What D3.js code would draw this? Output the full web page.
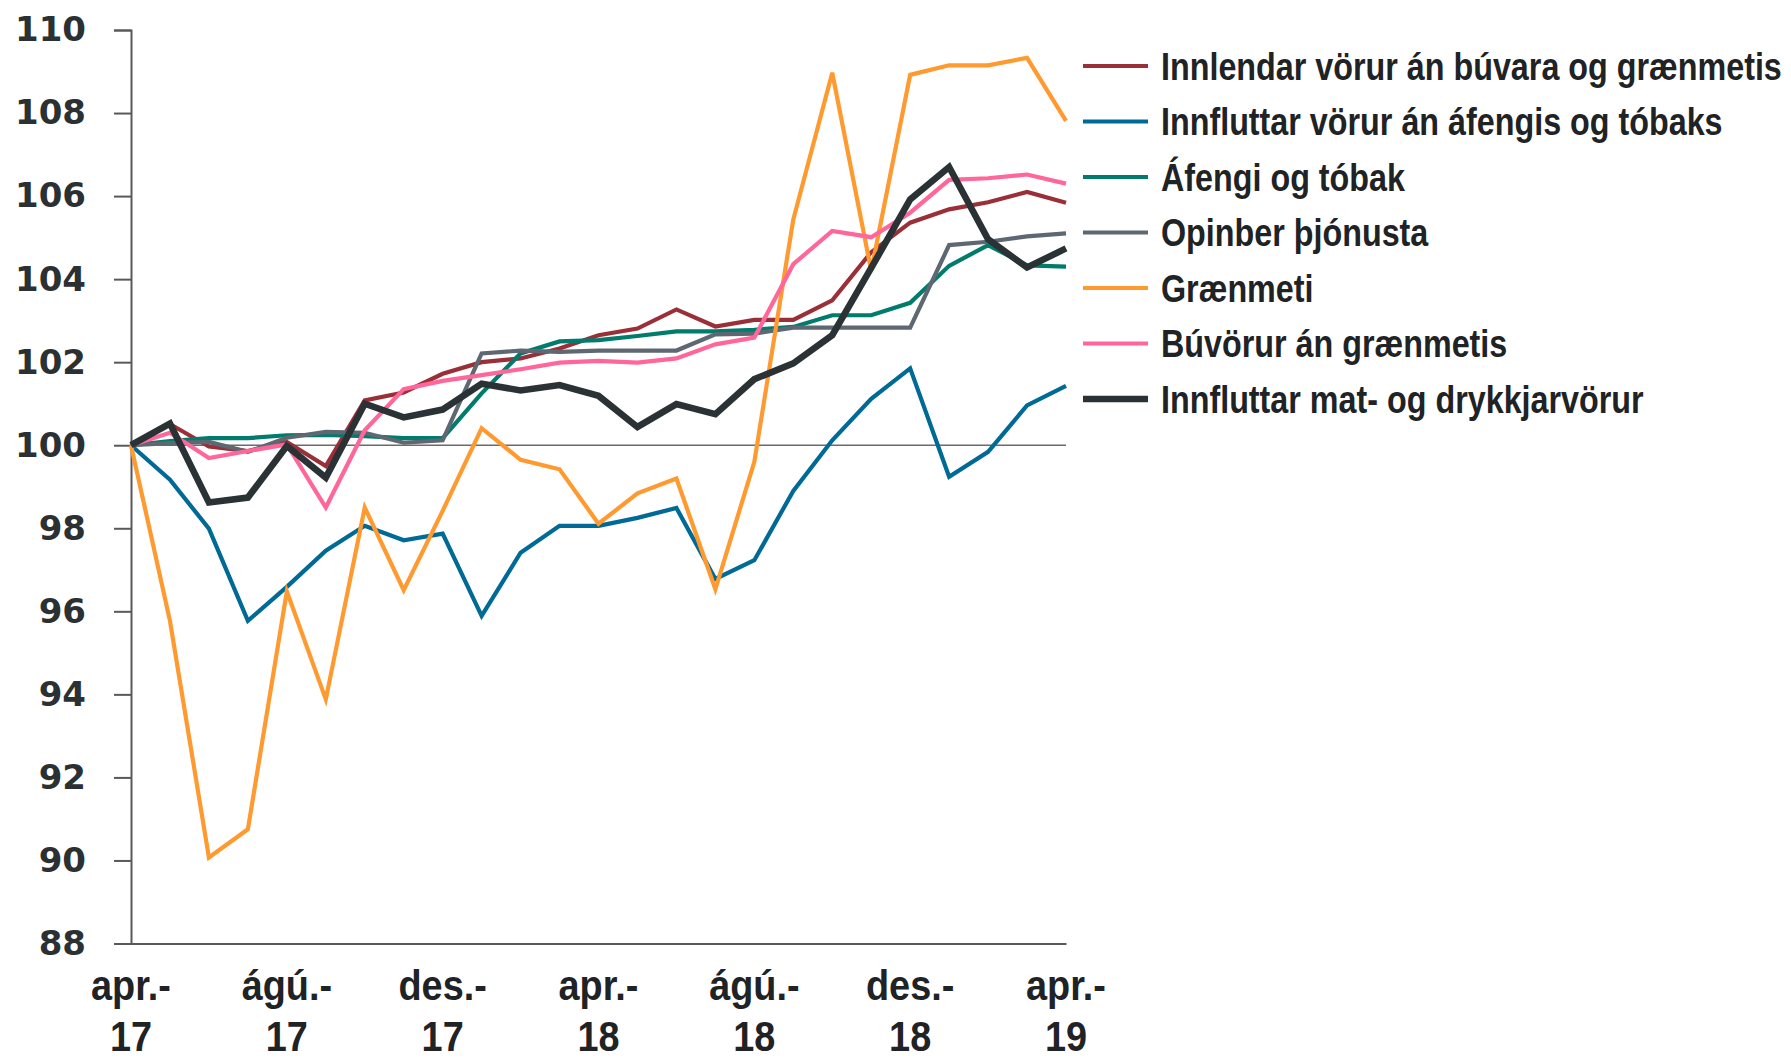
<!DOCTYPE html>
<html>
<head>
<meta charset="utf-8">
<script src="https://cdn.jsdelivr.net/npm/d3@7"></script>
<style>
  html, body { margin: 0; padding: 0; background: #fff; }
  svg { display: block; }
  .ylab { font-family: "DejaVu Sans", sans-serif; font-weight: bold; font-size: 34px; fill: #2b3033; }
  .xlab, .leg { font-family: "Liberation Sans", "Open Sans", sans-serif; font-weight: bold; fill: #1f2326; }
</style>
</head>
<body>
<svg id="chart" width="1791" height="1064"></svg>
<script>
// monthly index, apr. 2017 = 100
const months = ['apr.-17', 'maí.-17', 'jún.-17', 'júl.-17', 'ágú.-17', 'sep.-17', 'okt.-17', 'nóv.-17',
  'des.-17', 'jan.-18', 'feb.-18', 'mar.-18', 'apr.-18', 'maí.-18', 'jún.-18', 'júl.-18', 'ágú.-18',
  'sep.-18', 'okt.-18', 'nóv.-18', 'des.-18', 'jan.-19', 'feb.-19', 'mar.-19', 'apr.-19'];

const innlendar = [100, 100.51, 99.97, 99.86, 100.08, 99.5, 101.08, 101.27, 101.72, 102.0, 102.09, 102.33,
  102.65, 102.81, 103.27, 102.86, 103.02, 103.02, 103.49, 104.65, 105.36, 105.68, 105.85, 106.1, 105.84];
const innfluttar = [100, 99.17, 97.99, 95.77, 96.59, 97.46, 98.06, 97.71, 97.87, 95.89, 97.41, 98.06,
  98.06, 98.25, 98.49, 96.78, 97.23, 98.9, 100.12, 101.12, 101.85, 99.24, 99.84, 100.96, 101.43];
const afengi = [100, 100.1, 100.17, 100.17, 100.24, 100.25, 100.22, 100.17, 100.17, 101.25, 102.21, 102.5,
  102.53, 102.63, 102.74, 102.74, 102.78, 102.85, 103.13, 103.13, 103.43, 104.32, 104.82, 104.33, 104.3];
const opinber = [100, 100.05, 100.08, 99.84, 100.18, 100.32, 100.3, 100.06, 100.12, 102.21, 102.28, 102.25,
  102.28, 102.28, 102.28, 102.67, 102.69, 102.83, 102.83, 102.83, 102.83, 104.82, 104.9, 105.03, 105.1];
const graenmeti = [100, 95.77, 90.07, 90.75, 96.48, 93.88, 98.5, 96.51, 98.42, 100.41, 99.65, 99.42,
  98.11, 98.84, 99.2, 96.53, 99.6, 105.44, 108.97, 104.2, 108.92, 109.15, 109.15, 109.33, 107.81];
const buvorur = [100, 100.3, 99.69, 99.86, 100.02, 98.5, 100.36, 101.35, 101.55, 101.69, 101.83, 101.99,
  102.03, 101.99, 102.09, 102.43, 102.59, 104.36, 105.16, 105.01, 105.6, 106.39, 106.43, 106.52, 106.3];
const matDrykk = [100, 100.52, 98.62, 98.74, 99.98, 99.22, 101.0, 100.67, 100.86, 101.48, 101.32, 101.45,
  101.19, 100.44, 100.99, 100.75, 101.59, 101.97, 102.65, 104.27, 105.92, 106.7, 104.96, 104.28, 104.74];

const seriesNames = ['Innlendar vörur án búvara og grænmetis', 'Innfluttar vörur án áfengis og tóbaks',
  'Áfengi og tóbak', 'Opinber þjónusta', 'Grænmeti', 'Búvörur án grænmetis', 'Innfluttar mat- og drykkjarvörur'];
const yTicks = [88, 90, 92, 94, 96, 98, 100, 102, 104, 106, 108, 110];
const xTickIdx = [0, 4, 8, 12, 16, 20, 24];

const series = [
  { name: seriesNames[0], values: innlendar, color: '#9b2f38', width: 4.2 },
  { name: seriesNames[1], values: innfluttar, color: '#006a96', width: 4.2 },
  { name: seriesNames[2], values: afengi, color: '#007b6c', width: 4.2 },
  { name: seriesNames[3], values: opinber, color: '#5e6872', width: 4.2 },
  { name: seriesNames[4], values: graenmeti, color: '#ff9a30', width: 4.2 },
  { name: seriesNames[5], values: buvorur, color: '#ff6699', width: 4.2 },
  { name: seriesNames[6], values: matDrykk, color: '#2b3235', width: 6.6 },
];

const margin = { left: 131, right: 1066, top: 30, bottom: 943.5 };
const svg = d3.select('#chart');

const x = d3.scalePoint().domain(d3.range(months.length)).range([margin.left, margin.right]);
const y = d3.scaleLinear().domain([88, 110]).range([margin.bottom, margin.top]);

// y axis
const yAxis = svg.append('g').attr('transform', 'translate(' + margin.left + ',0)')
  .call(d3.axisLeft(y).tickValues(yTicks).tickSize(17).tickPadding(28));
yAxis.select('.domain').attr('stroke', '#595959').attr('stroke-width', 2);
yAxis.selectAll('.tick line').attr('stroke', '#595959').attr('stroke-width', 2);
yAxis.selectAll('.tick text').attr('class', 'ylab').attr('font-size', null).attr('font-family', null)
  .attr('fill', null);

// x axis, no ticks, two-line labels
const xAxis = svg.append('g').attr('transform', 'translate(0,' + margin.bottom + ')')
  .call(d3.axisBottom(x).tickValues(xTickIdx).tickSize(0).tickFormat(''));
xAxis.select('.domain').attr('stroke', '#595959').attr('stroke-width', 2);

// condensed look: squeeze text horizontally
const xsq = 0.88;
const xl = svg.append('g').selectAll('text').data(xTickIdx).enter().append('text')
  .attr('class', 'xlab')
  .attr('text-anchor', 'middle')
  .attr('font-size', 43)
  .attr('transform', (d) => 'translate(' + x(d) + ',0) scale(' + xsq + ',1)');
xl.append('tspan').attr('x', 0).attr('y', 1000).text((d) => months[d].split('-')[0] + '-');
xl.append('tspan').attr('x', 0).attr('y', 1051).text((d) => months[d].split('-')[1]);

// reference line at 100
svg.append('line')
  .attr('x1', margin.left).attr('x2', margin.right)
  .attr('y1', y(100)).attr('y2', y(100))
  .attr('stroke', '#6b6b6b').attr('stroke-width', 1.5);

const line = d3.line().x((d, i) => x(i)).y((d) => y(d));

svg.append('g').selectAll('path').data(series).enter().append('path')
  .attr('d', (s) => line(s.values))
  .attr('fill', 'none')
  .attr('stroke', (s) => s.color)
  .attr('stroke-width', (s) => s.width)
  .attr('stroke-linejoin', 'miter');

// legend
const leg = svg.append('g').selectAll('g').data(series).enter().append('g')
  .attr('transform', (s, i) => 'translate(1083,' + (66 + i * 55.5) + ')');
leg.append('line')
  .attr('x1', 0).attr('x2', 65)
  .attr('stroke', (s) => s.color)
  .attr('stroke-width', (s) => s.width);
const legText = leg.append('text')
  .attr('class', 'leg')
  .attr('dy', '0.35em')
  .attr('font-size', 39)
  .text((s) => s.name);

// first label should span ~621px like the reference
const firstLen = legText.node().getComputedTextLength();
const lsq = Math.min(1, 621 / firstLen);
legText.attr('transform', 'translate(78,0) scale(' + lsq + ',1)');
</script>
</body>
</html>
